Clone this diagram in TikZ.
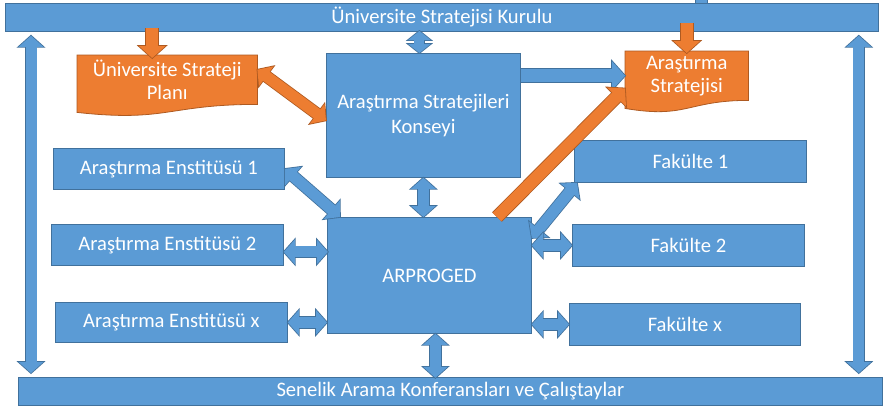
\documentclass[tikz,border=0pt]{standalone}
\usepackage{fontspec}
\setmainfont{Carlito}
\usetikzlibrary{arrows.meta,calc,backgrounds}
\definecolor{mblue}{HTML}{5B9BD5}
\definecolor{mbord}{HTML}{41719C}
\definecolor{morange}{HTML}{ED7D31}
\definecolor{mobord}{HTML}{AE5A21}
\begin{document}
\begin{tikzpicture}[x=1pt,y=-1pt,
  box/.style={draw=mbord, fill=mblue, line width=0.8pt, text=white, inner sep=0pt,
    anchor=north west, font=\fontsize{20.6}{25}\selectfont, align=center},
  doctext/.style={text=white, inner sep=0pt, anchor=north west,
    font=\fontsize{20.6}{23}\selectfont, align=center},
  docshape/.style={fill=morange, draw=mobord, line width=0.8pt},
  barrow/.style={draw=mblue, line width=11pt,
    {Triangle[width=24pt,length=11pt]}-{Triangle[width=24pt,length=11pt]},
    preaction={draw=mbord, line width=12.6pt, shorten <=-1.1pt, shorten >=-1.1pt,
      {Triangle[width=28.1pt,length=12.9pt]}-{Triangle[width=28.1pt,length=12.9pt]}}},
  sbarrow/.style={draw=mblue, line width=10pt,
    {Triangle[width=22pt,length=9pt]}-{Triangle[width=22pt,length=9pt]},
    preaction={draw=mbord, line width=11.6pt, shorten <=-1pt, shorten >=-1pt,
      {Triangle[width=26.5pt,length=10.8pt]}-{Triangle[width=26.5pt,length=10.8pt]}}},
  bsingle/.style={draw=mblue, line width=13pt, -{Triangle[width=28pt,length=13pt]},
    preaction={draw=mbord, line width=14.6pt, shorten >=-1.1pt,
      -{Triangle[width=32.1pt,length=14.9pt]}}},
  odarrow/.style={draw=morange, line width=11pt,
    {Triangle[width=24pt,length=11pt]}-{Triangle[width=24pt,length=11pt]},
    preaction={draw=mobord, line width=12.6pt, shorten <=-1.1pt, shorten >=-1.1pt,
      {Triangle[width=28.1pt,length=12.9pt]}-{Triangle[width=28.1pt,length=12.9pt]}}},
  osingle/.style={draw=morange, line width=12pt, -{Triangle[width=26pt,length=12pt]},
    preaction={draw=mobord, line width=13.6pt, shorten >=-1.1pt,
      -{Triangle[width=30.1pt,length=13.9pt]}}},
]
\useasboundingbox (0,0) rectangle (883,410);

% bars
\node[box, minimum width=873pt, minimum height=28pt] (top) at (5,3) {Üniversite Stratejisi Kurulu};
\node[box, minimum width=864pt, minimum height=28pt] (bot) at (18,377) {Senelik Arama Konferansları ve Çalıştaylar};

% central boxes
\node[box, minimum width=194pt, minimum height=124pt] (kons) at (326,53) {Araştırma Stratejileri\\Konseyi};
\node[box, minimum width=204pt, minimum height=116pt] (arp) at (327,217) {ARPROGED};

% left boxes
\node[box, minimum width=231pt, minimum height=41pt] (ens1) at (53,148) {Araştırma Enstitüsü 1};
\node[box, minimum width=232pt, minimum height=41pt] (ens2) at (51,224) {Araştırma Enstitüsü 2};
\node[box, minimum width=232pt, minimum height=40pt] (ensx) at (55,302) {Araştırma Enstitüsü x};

% right boxes
\node[box, minimum width=232pt, minimum height=42pt] (fak1) at (574,140) {Fakülte 1};
\node[box, minimum width=232pt, minimum height=42pt] (fak2) at (572,224) {Fakülte 2};
\node[box, minimum width=231pt, minimum height=42pt] (fakx) at (569,303) {Fakülte x};

% documents (text part)
\node[doctext, minimum width=180pt, minimum height=49pt] (pl) at (77,55) {Üniversite Strateji\\Planı};
\node[doctext, minimum width=123pt, minimum height=49pt] (ars) at (625,51) {Araştırma\\Stratejisi};

\begin{scope}[on background layer]
  \fill[white] (0,0) rectangle (883,410);
  \draw[docshape] (pl.north west) -- (pl.north east) -- (pl.south east)
    .. controls ($(pl.south east)+(-90,0)$) and ($(pl.south east)+(-90,18)$) .. ($(pl.south west)+(0,8)$) -- cycle;
  \draw[docshape] (ars.north west) -- (ars.north east) -- (ars.south east)
    .. controls ($(ars.south east)+(-61.5,0)$) and ($(ars.south east)+(-61.5,18.6)$) .. ($(ars.south west)+(0,8)$) -- cycle;
\end{scope}

% stub of an arrow above the top bar
\fill[mblue, draw=mbord, line width=0.8pt] (695,-2) rectangle (707,3);

% vertical side arrows
\draw[barrow] ([xshift=26pt,yshift=-4pt]top.south west) -- ([xshift=13pt,yshift=4pt]bot.north west);
\draw[barrow] ([xshift=-20pt,yshift=-4pt]top.south east) -- ([xshift=-24pt,yshift=4pt]bot.north east);

% central vertical arrows
\draw[sbarrow] ([xshift=-4pt]kons.north) -- ($(kons.north)+(-4,-22)$);
\draw[barrow] (kons.south) -- (kons.south |- arp.north);
\draw[barrow] ([xshift=6pt]arp.south) -- ($(arp.south)+(6,44)$);

% left connections
\draw[barrow] (ens1.east) -- ([xshift=13pt]arp.north west);
\draw[barrow] ([yshift=-7pt]ens2.east) -- ($(ens2.east)+(44,7)$);
\draw[barrow] (ensx.east) -- (ensx.east -| arp.west);

% right connections
\draw[barrow] ([yshift=-21pt]arp.north east) -- ([xshift=3pt]fak1.south west);
\draw[barrow] (fak2.west -| arp.east) -- (fak2.west);
\draw[barrow] (fakx.west -| arp.east) -- (fakx.west);

% strategy arrows
\draw[bsingle] (kons.east |- ars.west) -- (ars.west);
\draw[odarrow] ([yshift=10pt]pl.east) -- ([yshift=-5pt]kons.west);
\draw[osingle] ([xshift=170pt]arp.north west) -- ([yshift=12pt]ars.south west);
\draw[osingle] ($(pl.north)+(-15,-27)$) -- ($(pl.north)+(-15,3)$);
\draw[osingle] ($(ars.north)+(0,-28)$) -- ($(ars.north)+(0,2)$);
\end{tikzpicture}
\end{document}
